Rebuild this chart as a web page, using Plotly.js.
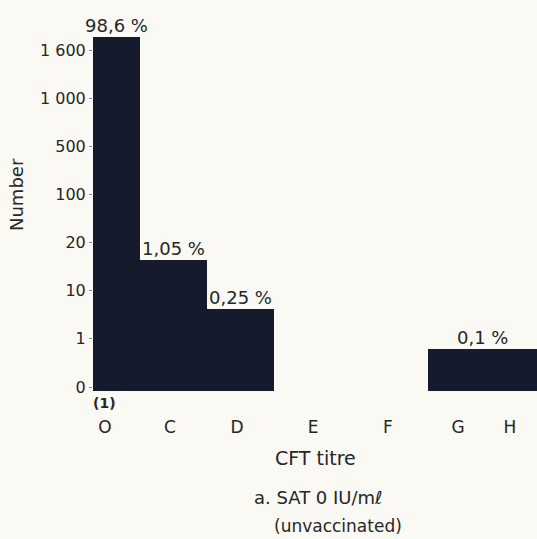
<!DOCTYPE html>
<html><head><meta charset="utf-8">
<script src="https://cdn.plot.ly/plotly-3.0.1.min.js"></script>
<style>body{margin:0;background:#faf9f4}</style>
</head><body><div id="chart" style="width:537px;height:539px"></div>
<script>
// Data
const yTickLabels = ["0", "1", "10", "20", "100", "500", "1 000", "1 600"];
const xTickLabels = ["O", "C", "D", "E", "F", "G", "H"];
const barGroups = ["O", "C", "D", "G–H"];
const barLevels = [7.28, 2.64, 1.62, 0.79];   // heights on the chart's stepped scale
const barPercents = ["98,6 %", "1,05 %", "0,25 %", "0,1 %"];

// Layout geometry (positions on a linear x axis)
const xTickPos = [12, 77, 144, 220, 295, 365, 417];
const barLeft = [0, 47, 114, 335];
const barRight = [47, 114, 181, 444];
const base = -0.08;

const font = "DejaVu Sans, sans-serif";
const ink = "#262626";
const barColor = "#151b2c";

const W = 537, H = 539, L = 93, R = 0, T = 30, B = 139;
const pw = W - L - R, ph = H - T - B;
function py(pixel) { return (H - B - pixel) / ph; }
function px(pixel) { return (pixel - L) / pw; }

const trace = {
  type: "bar",
  x: barGroups.map((g, i) => (barLeft[i] + barRight[i]) / 2),
  width: barGroups.map((g, i) => barRight[i] - barLeft[i]),
  y: barLevels.map(v => v - base),
  base: base,
  marker: {color: barColor, line: {width: 0}},
  hoverinfo: "skip"
};

const annotations = barGroups.map((g, i) => ({
  x: (barLeft[i] + barRight[i]) / 2, y: barLevels[i], xref: "x", yref: "y",
  text: barPercents[i], showarrow: false, yanchor: "bottom", yshift: -1,
  font: {family: font, size: 18, color: ink}
}));
annotations.push(
  {x: px(104), y: py(403), xref: "paper", yref: "paper", xanchor: "center", yanchor: "middle",
   text: "<b>(1)</b>", showarrow: false, font: {family: font, size: 14, color: ink}},
  {x: px(16), y: py(195), xref: "paper", yref: "paper", xanchor: "center", yanchor: "middle",
   text: "Number", textangle: -90, showarrow: false, font: {family: font, size: 18, color: ink}},
  {x: px(315), y: py(458), xref: "paper", yref: "paper", xanchor: "center", yanchor: "middle",
   text: "CFT titre", showarrow: false, font: {family: font, size: 19, color: ink}},
  {x: px(252), y: py(497), xref: "paper", yref: "paper", xanchor: "left", yanchor: "middle",
   text: "a. SAT 0 IU/mℓ", showarrow: false, font: {family: font, size: 18, color: ink}},
  {x: px(272), y: py(526), xref: "paper", yref: "paper", xanchor: "left", yanchor: "middle",
   text: "(unvaccinated)", showarrow: false, font: {family: font, size: 17, color: ink}}
);

const layout = {
  width: W, height: H,
  margin: {l: L, r: R, t: T, b: B},
  paper_bgcolor: "#faf9f4", plot_bgcolor: "#faf9f4",
  showlegend: false, bargap: 0,
  xaxis: {
    range: [0, pw], tickmode: "array", tickvals: xTickPos, ticktext: xTickLabels,
    showgrid: false, zeroline: false, showline: false, ticks: "",
    ticklabelstandoff: 15,
    tickfont: {family: font, size: 17, color: ink}
  },
  yaxis: {
    range: [-0.27, 7.42], tickmode: "array", tickvals: yTickLabels.map((t, i) => i), ticktext: yTickLabels,
    showgrid: false, zeroline: false, showline: false,
    ticks: "outside", ticklen: 3, tickcolor: "#888", tickwidth: 1,
    tickfont: {family: font, size: 16, color: ink}
  },
  annotations: annotations
};

Plotly.newPlot("chart", [trace], layout, {displayModeBar: false, staticPlot: true});
</script></body></html>
